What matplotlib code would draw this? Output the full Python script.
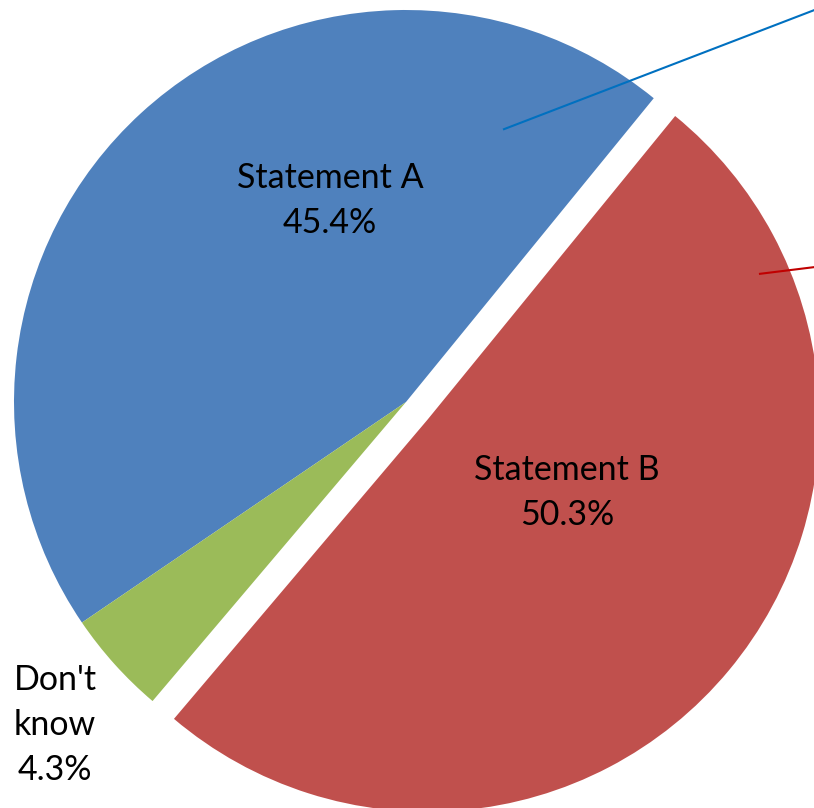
import matplotlib.pyplot as plt

# pie data
labels = ["Statement A", "Don't know", "Statement B"]
shares = [45.4, 4.3, 50.3]
colors = ["#4F81BD", "#9BBB59", "#C0504D"]
explode = [0, 0, 0.071]

# label text positions (data coords) and leader lines
label_text = ["Statement A\n45.4%", "Don't\nknow\n4.3%", "Statement B\n50.3%"]
label_pos = [(-0.194, 0.515), (-0.895, -0.824), (0.411, -0.230)]
leader_x = [[0.25, 1.3], [0.903, 1.3]]
leader_y = [[0.696, 1.099], [0.327, 0.376]]
leader_colors = ["#0070C0", "#C00000"]

plt.rcParams['font.family'] = ['Lato', 'DejaVu Sans']

fig = plt.figure(figsize=(8.14, 8.08), dpi=100)
ax = fig.add_axes([0, 0, 1, 1])

ax.pie(shares, colors=colors, explode=explode, startangle=50.8,
       counterclock=True, radius=1,
       wedgeprops=dict(linewidth=0, antialiased=True))

for xs, ys, c in zip(leader_x, leader_y, leader_colors):
    ax.plot(xs, ys, color=c, lw=1.5)

for txt, (x, y) in zip(label_text, label_pos):
    ax.text(x, y, txt, ha='center', va='center', fontsize=24.5,
            color='black', linespacing=1.5)

ax.set_aspect('auto')
ax.set_xlim(-406 / 392, (814 - 406) / 392)
ax.set_ylim((402 - 808) / 392, 402 / 392)
ax.axis('off')

fig.savefig("out.png", dpi=100)
